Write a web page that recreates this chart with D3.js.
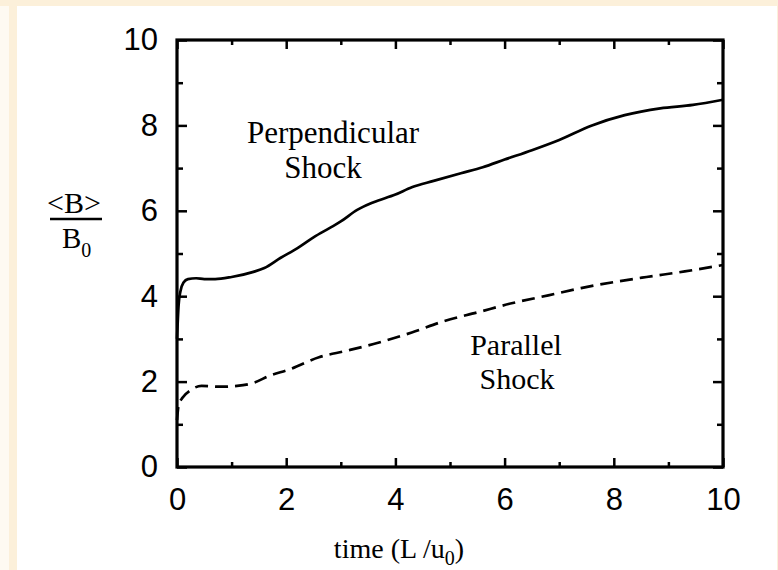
<!DOCTYPE html>
<html>
<head>
<meta charset="utf-8">
<script src="https://cdn.jsdelivr.net/npm/d3@7"></script>
<style>
  html, body { margin: 0; padding: 0; background: #fcf0da; }
  svg { display: block; }
</style>
</head>
<body>
<script>
// Mean magnetic field <B>/B0 versus time for perpendicular and parallel shocks
const perpTime  = [0, 0.03, 0.06, 0.12, 0.2, 0.35, 0.5, 0.7, 1.0, 1.4, 1.6, 1.9, 2.2, 2.5, 2.8, 3.0, 3.3, 3.6, 4.0, 4.3, 4.7, 5.2, 5.6, 6.0, 6.5, 7.0, 7.6, 8.2, 8.85, 9.45, 10.0];
const perpField = [3.0, 3.8, 4.1, 4.32, 4.4, 4.42, 4.4, 4.4, 4.45, 4.57, 4.66, 4.9, 5.12, 5.38, 5.6, 5.75, 6.02, 6.2, 6.38, 6.55, 6.7, 6.88, 7.02, 7.2, 7.42, 7.66, 8.0, 8.24, 8.4, 8.48, 8.6];

const paraTime  = [0, 0.03, 0.1, 0.25, 0.45, 0.8, 1.1, 1.4, 1.7, 2.05, 2.6, 3.1, 3.6, 4.3, 4.9, 5.5, 6.15, 6.8, 7.4, 8.0, 8.6, 9.3, 10.0];
const paraField = [1.1, 1.45, 1.62, 1.8, 1.9, 1.88, 1.9, 1.97, 2.14, 2.28, 2.57, 2.72, 2.88, 3.15, 3.42, 3.62, 3.84, 4.02, 4.19, 4.33, 4.45, 4.58, 4.73];

const xMajor = [0, 2, 4, 6, 8, 10];
const xMinor = [1, 3, 5, 7, 9];
const yMajor = [0, 2, 4, 6, 8, 10];
const yMinor = [1, 3, 5, 7, 9];

const W = 778, H = 570;
const svg = d3.select("body").append("svg").attr("width", W).attr("height", H);

// page background: cream border around a white panel
svg.append("rect").attr("x", 0).attr("y", 0).attr("width", W).attr("height", H).attr("fill", "#fcf0da");
svg.append("rect").attr("x", 0).attr("y", 6).attr("width", 9).attr("height", H - 6).attr("fill", "#fefaf2");
svg.append("rect").attr("x", 17).attr("y", 6).attr("width", 760).attr("height", H - 6).attr("fill", "#ffffff");

const plotL = 177, plotR = 723, plotT = 40, plotB = 467;
const x = d3.scaleLinear().domain([0, 10]).range([plotL, plotR]);
const y = d3.scaleLinear().domain([0, 10]).range([plotB, plotT]);

const sans = "'Liberation Sans', Arial, Helvetica, sans-serif";
const serif = "'Liberation Serif', 'Times New Roman', Times, serif";

function styleAxis(g) {
  g.select(".domain").remove();
  g.selectAll(".tick line").attr("stroke", "#000").attr("stroke-width", 2.5);
  g.selectAll(".tick text").attr("fill", "#000").style("font-family", sans).style("font-size", "31px");
}

// bottom axis with labels
svg.append("g").attr("transform", `translate(0,${plotB})`)
  .call(d3.axisBottom(x).tickValues(xMajor).tickSize(-9).tickPadding(21).tickFormat(d3.format("d")))
  .call(styleAxis);
svg.append("g").attr("transform", `translate(0,${plotB})`)
  .call(d3.axisBottom(x).tickValues(xMinor).tickSize(-5).tickFormat(""))
  .call(styleAxis);
// top axis, ticks only
svg.append("g").attr("transform", `translate(0,${plotT})`)
  .call(d3.axisTop(x).tickValues(xMajor).tickSize(-9).tickFormat(""))
  .call(styleAxis);
svg.append("g").attr("transform", `translate(0,${plotT})`)
  .call(d3.axisTop(x).tickValues(xMinor).tickSize(-5).tickFormat(""))
  .call(styleAxis);
// left axis with labels
svg.append("g").attr("transform", `translate(${plotL},0)`)
  .call(d3.axisLeft(y).tickValues(yMajor).tickSize(-10).tickPadding(19).tickFormat(d3.format("d")))
  .call(styleAxis);
svg.append("g").attr("transform", `translate(${plotL},0)`)
  .call(d3.axisLeft(y).tickValues(yMinor).tickSize(-6).tickFormat(""))
  .call(styleAxis);
// right axis, ticks only
svg.append("g").attr("transform", `translate(${plotR},0)`)
  .call(d3.axisRight(y).tickValues(yMajor).tickSize(-10).tickFormat(""))
  .call(styleAxis);
svg.append("g").attr("transform", `translate(${plotR},0)`)
  .call(d3.axisRight(y).tickValues(yMinor).tickSize(-6).tickFormat(""))
  .call(styleAxis);

// frame
svg.append("rect").attr("x", plotL).attr("y", plotT)
  .attr("width", plotR - plotL).attr("height", plotB - plotT)
  .attr("fill", "none").attr("stroke", "#000").attr("stroke-width", 3.2);

// curves
const line = d3.line().x(d => x(d[0])).y(d => y(d[1])).curve(d3.curveMonotoneX);
svg.append("path").datum(d3.zip(perpTime, perpField))
  .attr("d", line).attr("fill", "none").attr("stroke", "#000").attr("stroke-width", 2.7)
  .attr("stroke-linejoin", "round");
svg.append("path").datum(d3.zip(paraTime, paraField))
  .attr("d", line).attr("fill", "none").attr("stroke", "#000").attr("stroke-width", 2.7)
  .attr("stroke-dasharray", "13,7");

// two-line curve annotations, each a single text block
function label(lines, size) {
  const t = svg.append("text").attr("text-anchor", "middle")
    .style("font-family", serif).style("font-size", size + "px").attr("fill", "#000");
  lines.forEach(([tx, ty, txt]) => t.append("tspan").attr("x", tx).attr("y", ty).text(txt));
}
label([[333, 143, "Perpendicular"], [323, 178, "Shock"]], 31);
label([[516, 355, "Parallel"], [517, 389, "Shock"]], 30);

// x axis title
const xt = svg.append("text").attr("x", 399).attr("y", 558).attr("text-anchor", "middle")
  .style("font-family", serif).style("font-size", "28px").attr("fill", "#000");
xt.append("tspan").text("time (L /u");
xt.append("tspan").attr("dy", 7).style("font-size", "20px").text("0");
xt.append("tspan").attr("dy", -7).text(")");

// y axis title as a fraction <B> / B0
svg.append("text").attr("x", 74).attr("y", 213).attr("text-anchor", "middle")
  .style("font-family", serif).style("font-size", "30px").attr("fill", "#000").text("<B>");
svg.append("line").attr("x1", 50).attr("x2", 102).attr("y1", 219).attr("y2", 219)
  .attr("stroke", "#000").attr("stroke-width", 2.4);
const yb = svg.append("text").attr("x", 62).attr("y", 248)
  .style("font-family", serif).style("font-size", "29px").attr("fill", "#000");
yb.append("tspan").text("B");
yb.append("tspan").attr("dy", 9).style("font-size", "20px").text("0");
</script>
</body>
</html>
